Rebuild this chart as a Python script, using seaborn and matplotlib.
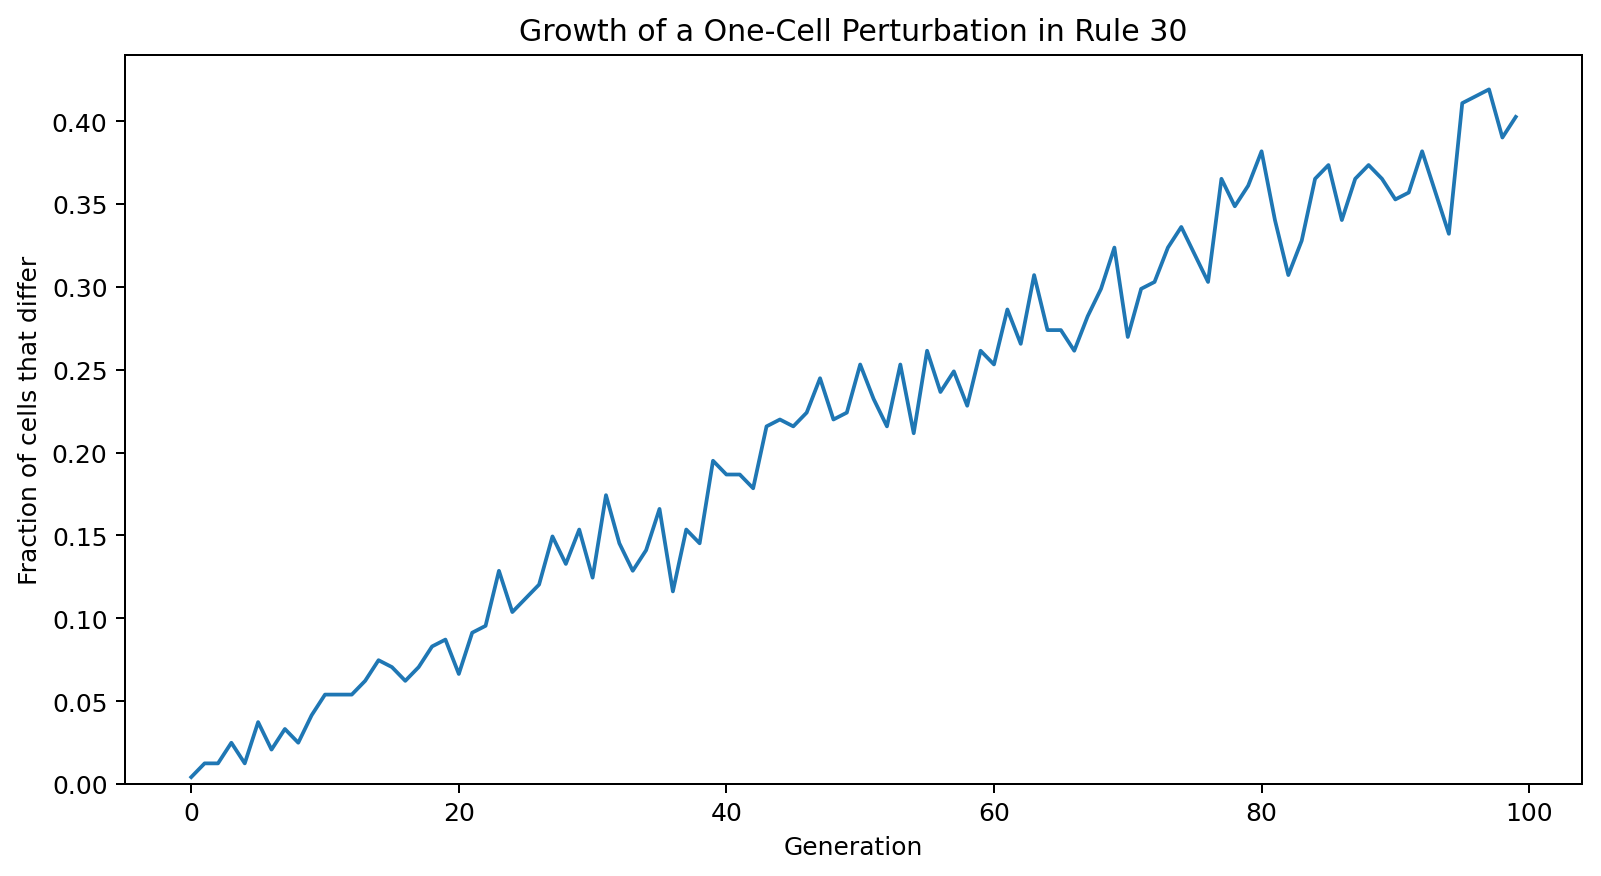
import numpy as np
import pandas as pd
import matplotlib
matplotlib.use("Agg")
import matplotlib.pyplot as plt
import seaborn as sns

generations = list(range(100))
# counts of differing cells out of 241
diff_counts = [1, 3, 3, 6, 3, 9, 5, 8, 6, 10,
               13, 13, 13, 15, 18, 17, 15, 17, 20, 21,
               16, 22, 23, 31, 25, 27, 29, 36, 32, 37,
               30, 42, 35, 31, 34, 40, 28, 37, 35, 47,
               45, 45, 43, 52, 53, 52, 54, 59, 53, 54,
               61, 56, 52, 61, 51, 63, 57, 60, 55, 63,
               61, 69, 64, 74, 66, 66, 63, 68, 72, 78,
               65, 72, 73, 78, 81, 77, 73, 88, 84, 87,
               92, 82, 74, 79, 88, 90, 82, 88, 90, 88,
               85, 86, 92, 86, 80, 99, 100, 101, 94, 97]
width = 241
fraction = [c / width for c in diff_counts]

df = pd.DataFrame({"Generation": generations, "Fraction": fraction})

DPI = 180
W, H = 1601, 877
fig = plt.figure(figsize=(W / DPI, H / DPI), dpi=DPI)
left, right, top, bottom = 125, 1582, 56, 785
ax = fig.add_axes([left / W, 1 - bottom / H, (right - left) / W, (bottom - top) / H])
sns.lineplot(data=df, x="Generation", y="Fraction", ax=ax, color="#1f77b4", linewidth=1.5)
ax.set_ylim(bottom=0)
ax.set_xlabel("Generation")
ax.set_ylabel("Fraction of cells that differ")
ax.set_title("Growth of a One-Cell Perturbation in Rule 30")
fig.savefig("out.png", dpi=DPI)
